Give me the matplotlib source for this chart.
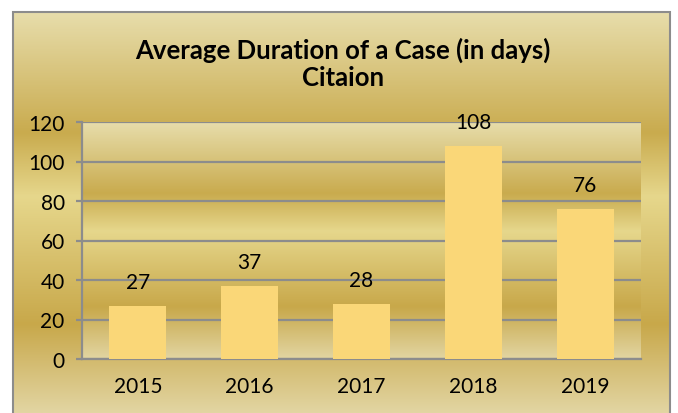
import numpy as np
import matplotlib.pyplot as plt
from matplotlib.colors import LinearSegmentedColormap
from matplotlib.patches import Rectangle

years = ['2015', '2016', '2017', '2018', '2019']
days = [27, 37, 28, 108, 76]
title = 'Average Duration of a Case (in days)\nCitaion'
y_ticks = [0, 20, 40, 60, 80, 100, 120]

plt.rcParams['font.family'] = ['Lato', 'DejaVu Sans']

# gold gradient, light - dark - light - dark - light (top to bottom)
gold = LinearSegmentedColormap.from_list('gold', [
    (0.0, '#e7ddab'), (0.30, '#c9ab4e'), (0.46, '#e6d78c'),
    (0.78, '#c8a84a'), (1.0, '#e2d5a2')])
grad = np.linspace(0, 1, 256).reshape(-1, 1)

W, H = 678, 414
fig = plt.figure(figsize=(W / 100, H / 100), dpi=100)
fig.patch.set_facecolor('white')

# outer chart panel
bg = fig.add_axes([13 / W, 0, (670 - 13) / W, (414 - 13) / H])
bg.imshow(grad, cmap=gold, aspect='auto', extent=[0, 1, 0, 1], origin='upper')
bg.set_xlim(0, 1)
bg.set_ylim(0, 1)
bg.axis('off')
fig.patches.append(Rectangle((13 / W, -0.01), (670 - 13) / W, (414 - 13) / H + 0.01,
                             transform=fig.transFigure, fill=False,
                             edgecolor='#8c8c8c', linewidth=1.5, zorder=10))

ax = fig.add_axes([82 / W, 1 - 360 / H, (641 - 82) / W, (360 - 123) / H])
ax.imshow(grad, cmap=gold, aspect='auto', extent=[-0.5, 4.5, 0, 120],
          origin='upper', zorder=0)

x = np.arange(len(years))
bars = ax.bar(x, days, width=0.51, color='#fad778', zorder=3)
ax.bar_label(bars, labels=[str(d) for d in days], padding=10, fontsize=15,
             color='black')

ax.set_xlim(-0.5, 4.5)
ax.set_ylim(0, 120)
ax.set_yticks(y_ticks)
ax.set_xticks(x)
ax.set_xticklabels(years)
ax.yaxis.grid(True, color='#8c8c8c', linewidth=1.6, zorder=1)
ax.set_axisbelow(True)
for side in ['top', 'right']:
    ax.spines[side].set_visible(False)
for side in ['left', 'bottom']:
    ax.spines[side].set_color('#8c8c8c')
    ax.spines[side].set_linewidth(1.6)
ax.tick_params(axis='y', length=4.5, width=1.6, color='#8c8c8c', pad=8,
               labelsize=15)
ax.tick_params(axis='x', length=0, pad=12, labelsize=15)

fig.text(343 / W, 1 - 64 / H, title, ha='center', va='center',
         fontsize=18.5, fontweight='bold', linespacing=1.12)

fig.savefig('out.png', dpi=100, facecolor='white')
